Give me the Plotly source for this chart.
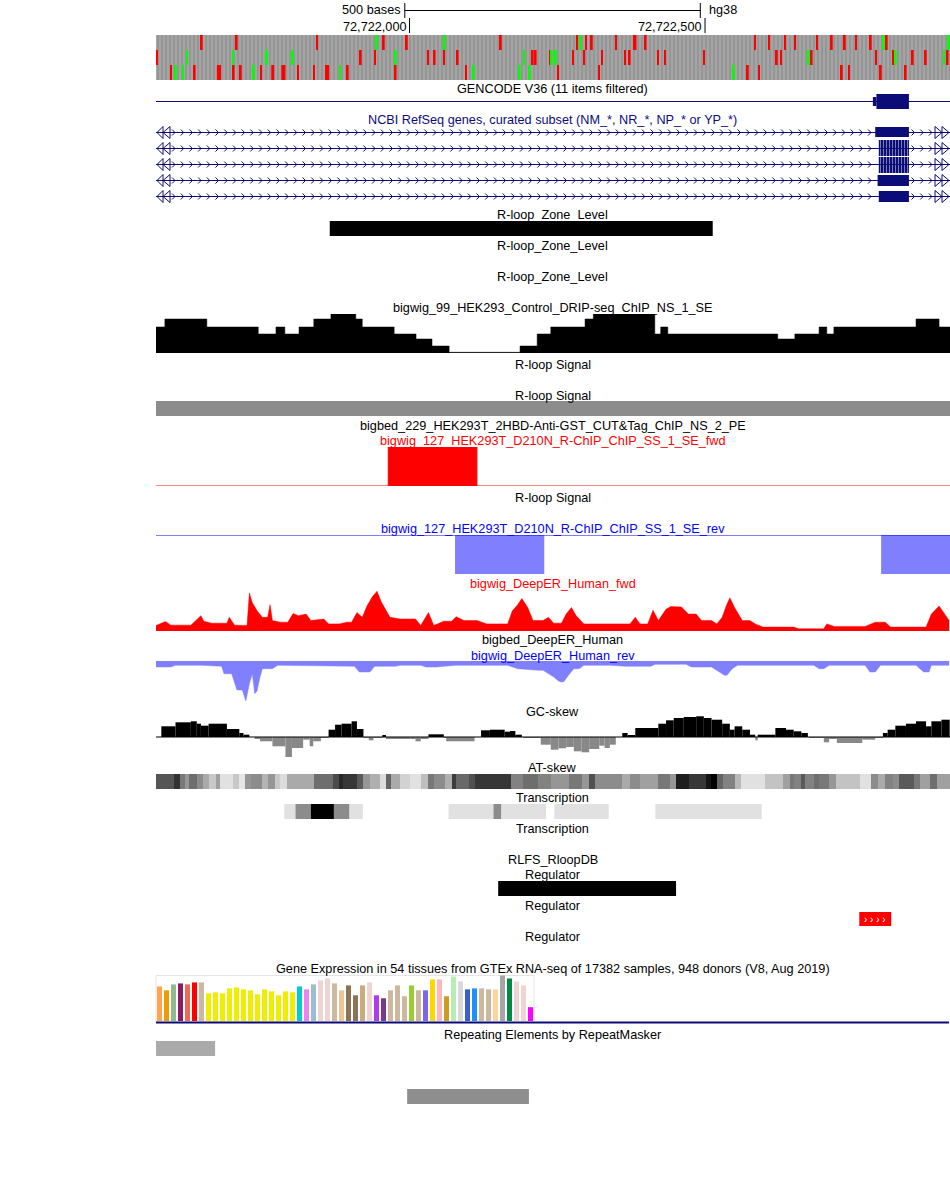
import plotly.graph_objects as go

# ======================= DATA =======================
REGION_START = 72721571          # genomic coordinate at left edge of tracks
REGION_END = 72722914.5          # genomic coordinate at right edge of tracks

ruler_ticks = [72722000, 72722500]
ruler_tick_labels = ["72,722,000", "72,722,500"]
scale_bar_start = 72721992
scale_bar_len = 500

# base-level variant track (3 rows) : red / green marked bases
variant_row1_red = [72721647, 72721706, 72721842, 72721955, 72721994, 72722153, 72722282, 72722297,
                    72722307, 72722348, 72722378, 72722398, 72722583, 72722607, 72722634, 72722651,
                    72722688, 72722713, 72722735, 72722754, 72722779, 72722806]
variant_row1_green = [72721943, 72722058, 72722288, 72722801, 72722911]
variant_row2_red = [72721571, 72721916, 72721940, 72722030, 72722041, 72722057, 72722080, 72722207,
                    72722212, 72722236, 72722275, 72722294, 72722324, 72722363, 72722371, 72722419,
                    72722431, 72722497, 72722620, 72722627, 72722679, 72722788, 72722818, 72722850,
                    72722872, 72722909]
variant_row2_green = [72721622, 72721700, 72721757, 72721801, 72721975, 72722192, 72722239, 72722246,
                      72722674, 72722821, 72722903]
variant_row3_red = [72721595, 72721635, 72721674, 72721701, 72721713, 72721747, 72721766, 72721783,
                    72721810, 72721837, 72721857, 72721894, 72721975, 72722094, 72722250, 72722319,
                    72722571, 72722590, 72722730, 72722742, 72722796, 72722838]
variant_row3_green = [72721603, 72721615, 72721735, 72721881, 72722107, 72722185, 72722202, 72722547]
variant_wide = {72722378: 6, 72721674: 7, 72721766: 5, 72721783: 7, 72721857: 7}

# GENCODE / RefSeq gene models
gencode_utr = [72722784, 72722790]
gencode_cds = [72722790, 72722845]
refseq_exon_starts = [72722788, 72722794, 72722794, 72722792, 72722794]
refseq_exon_ends = [72722845, 72722845, 72722845, 72722845, 72722845]

# R-loop zone
rloop_zone = [72721865, 72722513]

# DRIP-seq control signal (step bins)
drip_starts = [72721571, 72721586, 72721657, 72721744, 72721774, 72721789, 72721813, 72721838, 72721867,
               72721909, 72721920, 72721974, 72722011, 72722038, 72722067, 72722187, 72722216, 72722239,
               72722297, 72722311, 72722415, 72722425, 72722437, 72722623, 72722652, 72722693, 72722706,
               72722718, 72722857, 72722896]
drip_values = [26, 34, 26, 19, 26, 19, 26, 34, 39, 34, 26, 19, 14, 7, 0.7, 7, 19, 26, 34, 39, 19, 26, 19,
               14, 19, 26, 19, 26, 34, 26]

# R-ChIP fwd / rev intervals
rchip_fwd_intervals = [[72721964, 72722114]]
rchip_rev_intervals = [[72722077, 72722228], [72722798, 72722914.5]]

# DeepER signals (position = bp from view start)
deeper_fwd_offset_bp = [0, 16, 25, 42, 59, 76, 81, 94, 120, 124, 133, 154, 158, 163, 167, 171, 180, 189, 193,
                        197, 210, 223, 232, 241, 254, 262, 284, 292, 310, 323, 331, 340, 349, 357, 366, 374,
                        381, 387, 396, 413, 439, 448, 461, 470, 487, 500, 508, 521, 543, 560, 586, 595, 603,
                        612, 619, 629, 638, 655, 664, 673, 686, 694, 703, 711, 724, 750, 802, 811, 819, 832,
                        841, 850, 863, 871, 889, 901, 914, 923, 940, 949, 958, 965, 971, 979, 992, 1005, 1014,
                        1027, 1079, 1087, 1113, 1130, 1135, 1148, 1200, 1217, 1234, 1243, 1303, 1312, 1325,
                        1334, 1342]
deeper_fwd_values = [5.7, 9.7, 6, 5.7, 6, 15.7, 10, 8, 8, 14, 6, 5.7, 39, 29, 25, 20.7, 14, 14, 27, 10.7, 9, 9,
                     18, 15.7, 17.3, 10.7, 12.3, 7.3, 7.3, 9, 9, 19, 14, 25.7, 35, 40.7, 30, 24, 14, 12.3,
                     12.3, 5.7, 19, 5.7, 10, 10, 14.7, 10.7, 10.7, 7.3, 7.3, 7.3, 20.7, 27, 33.3, 24, 10.7,
                     10.7, 14, 8, 8, 17.3, 24, 15.7, 7.3, 7.3, 7.3, 14, 7.3, 7.3, 21.3, 10.7, 22.3, 25, 24.7,
                     17.3, 17.3, 10.7, 10.7, 7.3, 14, 26, 34, 24, 10.7, 10.7, 7.3, 4, 4, 2.3, 2.3, 2.3, 7.3,
                     4.7, 4.7, 9, 9, 4, 4, 17.3, 25.7, 17.3, 10.7]
deeper_rev_offset_bp = [0, 25, 33, 76, 111, 115, 128, 137, 146, 152, 158, 163, 167, 171, 176, 180, 197, 206, 336,
                        344, 362, 370, 405, 413, 448, 457, 474, 508, 595, 612, 647, 655, 673, 681, 686, 690,
                        698, 707, 716, 724, 768, 794, 837, 845, 897, 906, 940, 949, 962, 966, 975, 984, 1113,
                        1122, 1130, 1139, 1200, 1208, 1217, 1226, 1286, 1299, 1308, 1312, 1342]
deeper_rev_values = [-6, -6, -4.3, -4.3, -5.3, -12.7, -12.7, -29, -29, -40, -22.7, -12.7, -32.7, -30, -16, -7.7,
                     -7.7, -4.3, -5.3, -11, -11, -5.3, -5.3, -4.3, -4.3, -6, -6, -4.3, -4.3, -7.7, -9.3, -9.3,
                     -16, -20, -21, -20.7, -14.3, -7.7, -7.7, -4.3, -4.3, -5.3, -5.3, -3.3, -3.3, -6, -6,
                     -9.3, -14.3, -14.3, -7.7, -4.3, -4.3, -7.7, -7.7, -4.3, -4.3, -11, -11, -4.3, -4.3,
                     -11, -11, -4.3, -4.3]

# GC-skew (bins: start bp from view start, value)
gc_skew_offset_bp = [9, 33, 59, 69, 76, 89, 120, 141, 148, 158, 167, 176, 197, 219, 230, 249, 260, 266, 279, 292,
                     303, 314, 331, 340, 351, 360, 368, 383, 389, 431, 439, 448, 461, 487, 491, 539, 550, 565,
                     590, 599, 608, 619, 621, 651, 668, 681, 694, 707, 720, 733, 750, 759, 768, 778, 789, 798,
                     811, 850, 863, 876, 893, 914, 927, 940, 958, 971, 979, 992, 1005, 1014, 1018, 1048, 1066,
                     1079, 1092, 1103, 1105, 1130, 1139, 1152, 1195, 1217, 1230, 1238, 1251, 1269, 1286, 1303,
                     1312, 1329]
gc_skew_end_bp = 1343
gc_skew_values = [10.7, 14.7, 15.7, 13.3, 11.3, 13.3, 8, 4, 2.3, 0, -2, -4.3, -9.3, -20, -11, -2.7, -9.3, -4.3, -1,
                  7.3, 12.3, 13.3, 15.7, 8, -1, -3.3, -1, 1.3, -1.3, -2, -4.3, -1.3, 2.7, -1, -4.3, 0, 6.7, 7.3,
                  5.3, 6, 2.3, 0, -1, -7.7, -12.7, -11.3, -10, -14.3, -15.3, -12, -8.7, -11, -7.7, 0, 4, 1.3,
                  9, 13.3, 16.7, 19, 20, 20.7, 19, 17.3, 13.3, 7.3, 10.7, 7.3, 2.3, -3.3, 2.3, 9, 7.3, 5.7,
                  4, 0, -1, -5.3, -2, -6, -2.7, -1, 4, 7.3, 11.3, 13.3, 15.7, 10.7, 15.7, 17.3]

# AT-skew (segment starts, bp from view start; grey shade 0=black..255=white)
at_skew_offset_bp = [0, 31, 40, 49, 55, 69, 79, 89, 101, 109, 131, 141, 150, 160, 180, 190, 202, 210, 222, 268,
                     299, 310, 317, 340, 351, 362, 379, 389, 398, 413, 429, 448, 461, 470, 489, 500, 508, 530,
                     540, 590, 601, 621, 647, 668, 698, 720, 733, 742, 789, 802, 819, 850, 870, 880, 902, 930,
                     939, 949, 959, 979, 990, 1031, 1061, 1072, 1080, 1092, 1098, 1113, 1122, 1139, 1150, 1191,
                     1210, 1221, 1234, 1247, 1258, 1282, 1293, 1310, 1321]
at_skew_end_bp = 1343
at_skew_shade = [85, 50, 120, 150, 110, 140, 170, 200, 160, 225, 200, 230, 150, 140, 180, 150, 200, 220, 170, 110,
                 75, 40, 55, 90, 150, 175, 220, 100, 170, 210, 225, 190, 120, 140, 175, 60, 105, 80, 55, 55,
                 130, 110, 130, 150, 120, 150, 80, 140, 170, 140, 160, 120, 150, 30, 55, 20, 0, 100, 130, 185,
                 225, 195, 160, 120, 130, 90, 130, 110, 120, 150, 195, 225, 140, 170, 130, 140, 90, 120, 160,
                 110, 160]

# Transcription blocks
transcription_starts = [72721788, 72721807, 72721833, 72721872, 72721898, 72722066, 72722142, 72722155,
                        72722245, 72722416]
transcription_ends = [72721807, 72721833, 72721872, 72721898, 72721921, 72722142, 72722155, 72722231,
                      72722337, 72722596]
transcription_level = [1, 2, 3, 2, 1, 1, 2, 1, 1, 1]

# Regulators
regulator_black = [72722150, 72722451]
regulator_red = [72722761, 72722815]

# GTEx expression (54 tissues)
gtex_tissues = ["Adipose-Subcutaneous", "Adipose-Visceral", "Adrenal Gland", "Artery-Aorta", "Artery-Coronary",
                "Artery-Tibial", "Bladder", "Brain-Amygdala", "Brain-ACC", "Brain-Caudate",
                "Brain-Cerebellar Hemisphere", "Brain-Cerebellum", "Brain-Cortex", "Brain-Frontal Cortex",
                "Brain-Hippocampus", "Brain-Hypothalamus", "Brain-Nucleus accumbens", "Brain-Putamen",
                "Brain-Spinal cord", "Brain-Substantia nigra", "Breast", "Cells-EBV lymphocytes",
                "Cells-Fibroblasts", "Cervix-Ectocervix", "Cervix-Endocervix", "Colon-Sigmoid",
                "Colon-Transverse", "Esophagus-GE Junction", "Esophagus-Mucosa", "Esophagus-Muscularis",
                "Fallopian Tube", "Heart-Atrial", "Heart-LV", "Kidney-Cortex", "Kidney-Medulla", "Liver",
                "Lung", "Minor Salivary", "Muscle", "Nerve-Tibial", "Ovary", "Pancreas", "Pituitary",
                "Prostate", "Skin-Not sun", "Skin-Sun", "Small Intestine", "Spleen", "Stomach", "Testis",
                "Thyroid", "Uterus", "Vagina", "Whole Blood"]
gtex_values = [35, 31, 37, 38, 37, 39, 39, 28, 29, 28, 33, 34, 32, 31, 27, 32, 30, 26, 30, 29, 35, 32, 37, 41,
               43, 38, 31, 36, 26, 36, 39, 26, 23, 31, 36, 25, 36, 31, 31, 42, 42, 25, 45, 40, 32, 33, 33, 32,
               32, 46, 43, 40, 36, 14]
gtex_colors = ["#FFA54F", "#EE9A00", "#8FBC8F", "#8B1C62", "#EE6A50", "#FF0000", "#CDB79E", "#EEEE00",
               "#EEEE00", "#EEEE00", "#EEEE00", "#EEEE00", "#EEEE00", "#EEEE00", "#EEEE00", "#EEEE00",
               "#EEEE00", "#EEEE00", "#EEEE00", "#EEEE00", "#00CDCD", "#EE82EE", "#9AC0CD", "#EED5D2",
               "#EED5D2", "#CDB79E", "#EEC591", "#8B7355", "#8B7355", "#CDAA7D", "#EED5D2", "#B23AEE",
               "#7A378B", "#CDB79E", "#CDB79E", "#CDB79E", "#9ACD32", "#CDB79E", "#7A67EE", "#FFD700",
               "#FFB6C1", "#CD9B1D", "#B4EEB4", "#D9D9D9", "#3A5FCD", "#1E90FF", "#CDB79E", "#CDB79E",
               "#FFD39B", "#A6A6A6", "#008B45", "#EED5D2", "#EED5D2", "#FF00FF"]

# RepeatMasker
repeat_starts = [72721571, 72721996]
repeat_ends = [72721671, 72722202]
repeat_colors = ["#aaaaaa", "#8e8e8e"]

# ======================= LAYOUT HELPERS =======================
W, H = 950, 1201
PX0, PX1 = 156, 950
BP_PER_PX = (REGION_END - REGION_START) / (PX1 - PX0)
FONT = "Liberation Sans"
FS = 12.7
TEXT_DY = 1.0
NAVY = "#0c0c78"
CENTER_X = 552.5 / W


def bp(dpx):
    return dpx * BP_PER_PX


def dom(top, bottom):
    return [1 - bottom / H, 1 - top / H]


def ty(y):
    return 1 - (y + TEXT_DY) / H


fig = go.Figure()


def line(xs, ys, color, width=1, axis="y"):
    fig.add_trace(go.Scatter(x=xs, y=ys, mode="lines", line=dict(color=color, width=width),
                             yaxis=axis, hoverinfo="skip", showlegend=False))


def blocks(starts, ends, top, height, color, pattern=None):
    n = len(starts)
    marker = dict(color=color, line=dict(width=0))
    if pattern:
        marker["pattern"] = pattern
    fig.add_trace(go.Bar(x=list(starts), y=[height] * n, base=[top] * n,
                         width=[e - s for s, e in zip(starts, ends)], offset=0,
                         marker=marker, yaxis="y", hoverinfo="skip", showlegend=False))


def label(text, y, color="black", x=CENTER_X, xanchor="center", xref="paper", size=FS):
    fig.add_annotation(x=x, y=ty(y), xref=xref, yref="paper", text=text, showarrow=False,
                       font=dict(family=FONT, size=size, color=color), xanchor=xanchor, yanchor="middle")


# ======================= RULER =======================
sb0, sb1 = scale_bar_start, scale_bar_start + scale_bar_len
line([sb0, sb1, None, sb0, sb0, None, sb1, sb1], [10.5, 10.5, None, 3, 18, None, 3, 18], "black")
fig.add_annotation(x=sb0, y=ty(9), xref="x", yref="paper", text="500 bases", showarrow=False,
                   font=dict(family=FONT, size=FS, color="black"), xanchor="right", yanchor="middle", xshift=-2)
fig.add_annotation(x=sb1, y=ty(9), xref="x", yref="paper", text="hg38", showarrow=False,
                   font=dict(family=FONT, size=FS, color="black"), xanchor="left", yanchor="middle", xshift=7)
for t, lab in zip(ruler_ticks, ruler_tick_labels):
    line([t, t], [18, 33], "black")
    fig.add_annotation(x=t, y=ty(26), xref="x", yref="paper", text=lab, showarrow=False,
                       font=dict(family=FONT, size=FS, color="black"), xanchor="right", yanchor="middle",
                       xshift=-1)

# ======================= VARIANT TRACK =======================
stripe = dict(shape="|", fgcolor="#878787", bgcolor="#a4a4a4", size=4, solidity=0.5, fillmode="overlay")
for i, (reds, greens) in enumerate([(variant_row1_red, variant_row1_green),
                                    (variant_row2_red, variant_row2_green),
                                    (variant_row3_red, variant_row3_green)]):
    top = 35 + 15 * i
    blocks([REGION_START], [REGION_END], top, 15, "#a4a4a4", pattern=stripe)
    blocks(reds, [s + variant_wide.get(s, 3) for s in reds], top, 15, "#ff0000")
    blocks(greens, [s + variant_wide.get(s, 3) for s in greens], top, 15, "#00ff00")

# ======================= GENCODE =======================
label("GENCODE V36 (11 items filtered)", 88)
line([REGION_START, REGION_END], [101.5, 101.5], NAVY)
blocks([gencode_utr[0]], [gencode_utr[1]], 97, 9, NAVY)
blocks([gencode_cds[0]], [gencode_cds[1]], 94, 15, NAVY)

# ======================= RefSeq =======================
label("NCBI RefSeq genes, curated subset (NM_*, NR_*, NP_* or YP_*)", 119, color=NAVY)
row_centers = [132.5, 148.5, 164.5, 180.5, 196.5]
exon_geom = [(127, 10, False), (140, 16, True), (157, 16, True), (175, 11, False), (191, 11, False)]
hatch = dict(shape="|", fgcolor="white", bgcolor=NAVY, size=3, solidity=0.3, fillmode="overlay")
for yc, es, ee, (etop, eh, striped) in zip(row_centers, refseq_exon_starts, refseq_exon_ends, exon_geom):
    line([REGION_START, REGION_END], [yc, yc], NAVY)
    xs, ys = [], []
    c = REGION_START + bp(18)
    while c < REGION_END - bp(16):
        if not (es - bp(3) < c < ee + bp(4)):
            xs += [c - bp(2), c + bp(1), c - bp(2), None]
            ys += [yc - 3, yc, yc + 3, None]
        c += bp(8.7)
    # open triangles at the edges (gene continues off-screen)
    for tip, base in [(1, 7), (7, 14)]:
        xs += [REGION_START + bp(base), REGION_START + bp(tip), REGION_START + bp(base),
               REGION_START + bp(base), None]
        ys += [yc - 6, yc, yc + 6, yc - 6, None]
    for tip, base in [(793, 786), (786, 779)]:
        xs += [REGION_START + bp(base), REGION_START + bp(tip), REGION_START + bp(base),
               REGION_START + bp(base), None]
        ys += [yc - 6, yc, yc + 6, yc - 6, None]
    line(xs, ys, NAVY)
    blocks([es], [ee], etop, eh, NAVY, pattern=hatch if striped else None)

# ======================= R-loop zone =======================
label("R-loop_Zone_Level", 214)
blocks([rloop_zone[0]], [rloop_zone[1]], 221, 15, "black")
label("R-loop_Zone_Level", 245)
label("R-loop_Zone_Level", 276)

# ======================= DRIP-seq =======================
label("bigwig_99_HEK293_Control_DRIP-seq_ChIP_NS_1_SE", 307)
fig.add_trace(go.Scatter(x=drip_starts + [REGION_END], y=drip_values + [drip_values[-1]], mode="lines",
                         line=dict(color="black", width=0.5, shape="hv"), fill="tozeroy", fillcolor="black",
                         yaxis="y2", hoverinfo="skip", showlegend=False))
label("R-loop Signal", 364)
label("R-loop Signal", 395)
blocks([REGION_START], [REGION_END], 401, 15, "#8c8c8c")
label("bigbed_229_HEK293T_2HBD-Anti-GST_CUT&amp;Tag_ChIP_NS_2_PE", 425)

# ======================= R-ChIP fwd / rev =======================
label("bigwig_127_HEK293T_D210N_R-ChIP_ChIP_SS_1_SE_fwd", 440, color="#ff0000")
xs, ys = [REGION_START], [0]
for s, e in rchip_fwd_intervals:
    xs += [s, e]
    ys += [1, 0]
xs.append(REGION_END)
ys.append(0)
fig.add_trace(go.Scatter(x=xs, y=ys, mode="lines", line=dict(color="#ff0000", width=1, shape="hv"),
                         fill="tozeroy", fillcolor="#ff0000", yaxis="y3", hoverinfo="skip", showlegend=False))
label("R-loop Signal", 497)
label("bigwig_127_HEK293T_D210N_R-ChIP_ChIP_SS_1_SE_rev", 528, color="#0000ff")
xs, ys = [REGION_START], [0]
for s, e in rchip_rev_intervals:
    xs += [s, e]
    ys += [-1, 0]
fig.add_trace(go.Scatter(x=xs, y=ys, mode="lines", line=dict(color="#8080ff", width=0, shape="hv"),
                         fill="tozeroy", fillcolor="#8080ff", yaxis="y4", hoverinfo="skip", showlegend=False))
line([REGION_START, REGION_END], [0, 0], "#0000ff", axis="y4")

# ======================= DeepER =======================
label("bigwig_DeepER_Human_fwd", 583, color="#ff0000")
fig.add_trace(go.Scatter(x=[REGION_START + o for o in deeper_fwd_offset_bp], y=deeper_fwd_values,
                         mode="lines", line=dict(color="#ff0000", width=0.5), fill="tozeroy",
                         fillcolor="#ff0000", yaxis="y5", hoverinfo="skip", showlegend=False))
label("bigbed_DeepER_Human", 639)
label("bigwig_DeepER_Human_rev", 655, color="#0000ff")
fig.add_trace(go.Scatter(x=[REGION_START + o for o in deeper_rev_offset_bp], y=deeper_rev_values,
                         mode="lines", line=dict(color="#8080ff", width=0.5), fill="tozeroy",
                         fillcolor="#8080ff", yaxis="y6", hoverinfo="skip", showlegend=False))

# ======================= GC-skew =======================
label("GC-skew", 711)
gc_edges = gc_skew_offset_bp + [gc_skew_end_bp]
fig.add_trace(go.Bar(x=[REGION_START + o for o in gc_skew_offset_bp], y=gc_skew_values,
                     width=[gc_edges[i + 1] - gc_edges[i] for i in range(len(gc_skew_offset_bp))], offset=0,
                     marker=dict(color=["black" if v >= 0 else "#888888" for v in gc_skew_values],
                                 line=dict(width=0)),
                     yaxis="y7", hoverinfo="skip", showlegend=False))
line([REGION_START, REGION_END], [0, 0], "black", width=1, axis="y7")

# ======================= AT-skew =======================
label("AT-skew", 767)
fig.add_trace(go.Heatmap(x=[REGION_START + o for o in at_skew_offset_bp + [at_skew_end_bp]], y=[0, 1],
                         z=[at_skew_shade], zmin=0, zmax=255, colorscale=[[0, "black"], [1, "white"]],
                         showscale=False, yaxis="y8", hoverinfo="skip"))

# ======================= Transcription =======================
label("Transcription", 797)
level_color = {1: "#e1e1e1", 2: "#8c8c8c", 3: "#000000"}
for lvl in (1, 2, 3):
    idx = [i for i, v in enumerate(transcription_level) if v == lvl]
    blocks([transcription_starts[i] for i in idx], [transcription_ends[i] for i in idx], 804, 15,
           level_color[lvl])
label("Transcription", 828)

# ======================= RLFS / Regulator =======================
label("RLFS_RloopDB", 859)
label("Regulator", 874)
blocks([regulator_black[0]], [regulator_black[1]], 881, 15, "black")
label("Regulator", 905)
blocks([regulator_red[0]], [regulator_red[1]], 912, 14, "#ff0000")
fig.add_annotation(x=(regulator_red[0] + regulator_red[1]) / 2, y=1 - 919 / H, xref="x", yref="paper",
                   text="› › › ›", showarrow=False, font=dict(family=FONT, size=10, color="white"),
                   xanchor="center", yanchor="middle")
label("Regulator", 936)

# ======================= GTEx =======================
label("Gene Expression in 54 tissues from GTEx RNA-seq of 17382 samples, 948 donors (V8, Aug 2019)", 968)
fig.add_trace(go.Bar(x=list(range(len(gtex_values))), y=gtex_values, width=0.72,
                     marker=dict(color=gtex_colors, line=dict(width=0)),
                     hovertext=gtex_tissues, hoverinfo="text",
                     xaxis="x2", yaxis="y9", showlegend=False))
fig.add_shape(type="rect", xref="paper", yref="paper", x0=156 / W, x1=534 / W, y0=1 - 1022 / H,
              y1=1 - 975.5 / H, line=dict(color="#e4e4e4", width=1), fillcolor="rgba(0,0,0,0)", layer="below")
fig.add_shape(type="line", xref="paper", yref="paper", x0=156 / W, x1=949 / W, y0=1 - 1022.5 / H,
              y1=1 - 1022.5 / H, line=dict(color=NAVY, width=2))

# ======================= RepeatMasker =======================
label("Repeating Elements by RepeatMasker", 1034)
blocks([repeat_starts[0]], [repeat_ends[0]], 1041, 15, repeat_colors[0])
blocks([repeat_starts[1]], [repeat_ends[1]], 1089, 15, repeat_colors[1])

# ======================= AXES =======================
hidden = dict(visible=False, showgrid=False, zeroline=False, fixedrange=True)
fig.update_layout(
    width=W, height=H, margin=dict(l=0, r=0, t=0, b=0),
    paper_bgcolor="white", plot_bgcolor="rgba(0,0,0,0)", barmode="overlay", showlegend=False,
    xaxis=dict(domain=[PX0 / W, PX1 / W], range=[REGION_START, REGION_END], anchor="y", **hidden),
    xaxis2=dict(domain=[156 / W, 534 / W], range=[-0.5, 53.5], anchor="y9", **hidden),
    yaxis=dict(domain=[0, 1], range=[H, 0], anchor="x", **hidden),
    yaxis2=dict(domain=dom(314, 353), range=[0, 39], anchor="x", **hidden),
    yaxis3=dict(domain=dom(447, 486), range=[0, 1], anchor="x", **hidden),
    yaxis4=dict(domain=dom(535, 574), range=[-1, 0], anchor="x", **hidden),
    yaxis5=dict(domain=dom(591, 631), range=[0, 41], anchor="x", **hidden),
    yaxis6=dict(domain=dom(661, 701), range=[-40, 0], anchor="x", **hidden),
    yaxis7=dict(domain=dom(716, 758), range=[-21, 21], anchor="x", **hidden),
    yaxis8=dict(domain=dom(774, 789), range=[0, 1], anchor="x", **hidden),
    yaxis9=dict(domain=dom(975, 1021), range=[0, 46.5], anchor="x2", **hidden),
)

fig.write_html("out.html", config={"displayModeBar": False},
               post_script="document.body.style.margin='0';")
